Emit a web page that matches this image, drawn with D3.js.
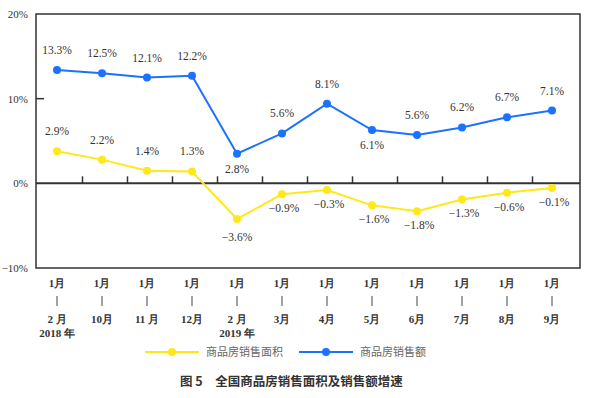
<!DOCTYPE html>
<html><head><meta charset="utf-8">
<script src="https://cdn.jsdelivr.net/npm/d3@7"></script>
<style>body{margin:0;background:#fff}svg{display:block}</style>
</head><body><svg id="c" width="600" height="398"></svg>
<script>
const categories = ["2018-02","2018-10","2018-11","2018-12","2019-02","2019-03","2019-04","2019-05","2019-06","2019-07","2019-08","2019-09"];
const monthLabels = ["2 月","10月","11 月","12月","2 月","3月","4月","5月","6月","7月","8月","9月"];
const yearLabels = ["2018 年","","","","2019 年","","","","","","",""];
const amountValues = [13.4, 13.0, 12.5, 12.7, 3.5, 5.9, 9.4, 6.3, 5.7, 6.6, 7.8, 8.6];
const amountLabels = ["13.3%","12.5%","12.1%","12.2%","2.8%","5.6%","8.1%","6.1%","5.6%","6.2%","6.7%","7.1%"];
const areaValues = [3.8, 2.8, 1.5, 1.4, -4.2, -1.3, -0.8, -2.6, -3.3, -1.9, -1.1, -0.55];
const areaLabels = ["2.9%","2.2%","1.4%","1.3%","−3.6%","−0.9%","−0.3%","−1.6%","−1.8%","−1.3%","−0.6%","−0.1%"];
const yTicks = [20, 10, 0, -10];
const yTickLabels = ["20%","10%","0%","−10%"];
const seriesNames = ["商品房销售面积","商品房销售额"];
const title = "图 5　全国商品房销售面积及销售额增速";

const svg = d3.select("#c");
const L = 36, R = 580, T = 14, B = 268;
const x = d3.scalePoint().domain(categories).range([57, 552]).padding(0);
const y = d3.scaleLinear().domain([-10, 20]).range([B, T]);
const serif = "'Liberation Serif','Times New Roman',serif";
const frame = "#333";

// frame
svg.append("rect").attr("x", L).attr("y", T).attr("width", R - L).attr("height", B - T)
  .attr("fill", "none").attr("stroke", frame).attr("stroke-width", 1.5);
// zero line
svg.append("line").attr("x1", L).attr("x2", R).attr("y1", y(0)).attr("y2", y(0))
  .attr("stroke", frame).attr("stroke-width", 2);
// y tick at 10%
svg.append("line").attr("x1", L).attr("x2", L + 8).attr("y1", y(10)).attr("y2", y(10))
  .attr("stroke", frame).attr("stroke-width", 1.5);
// category separators on zero line
const step = x.step();
categories.slice(0, -1).forEach((c, i) => {
  const xx = x(c) + step / 2 + 3;
  svg.append("line").attr("x1", xx).attr("x2", xx).attr("y1", y(0)).attr("y2", y(0) - 7)
    .attr("stroke", frame).attr("stroke-width", 1.5);
});
// y labels
svg.selectAll(".yl").data(yTicks).enter().append("text")
  .attr("x", 28).attr("y", d => y(d) + 4).attr("text-anchor", "end")
  .attr("font-family", serif).attr("font-size", 11).attr("fill", "#333")
  .text((d, i) => yTickLabels[i]);

// x labels
categories.forEach((c, i) => {
  const g = svg.append("g").attr("font-family", serif).attr("font-size", 11)
    .attr("font-weight", "bold").attr("fill", "#333").attr("text-anchor", "middle");
  g.append("text").attr("x", x(c)).attr("y", 287).text("1月");
  g.append("line").attr("x1", x(c)).attr("x2", x(c)).attr("y1", 296).attr("y2", 306)
    .attr("stroke", "#444").attr("stroke-width", 1);
  g.append("text").attr("x", x(c)).attr("y", 323).text(monthLabels[i]);
  if (yearLabels[i]) g.append("text").attr("x", x(c)).attr("y", 337).text(yearLabels[i]);
});

const blue = "#1a72ff", yellow = "#ffe81a";
const line = d3.line().x((d, i) => x(categories[i])).y(d => y(d));

function drawSeries(vals, color) {
  svg.append("path").datum(vals).attr("d", line).attr("fill", "none")
    .attr("stroke", color).attr("stroke-width", 2);
  svg.selectAll(null).data(vals).enter().append("circle")
    .attr("cx", (d, i) => x(categories[i])).attr("cy", d => y(d)).attr("r", 4).attr("fill", color);
}
drawSeries(areaValues, yellow);
drawSeries(amountValues, blue);

// labels
const amountBelow = [false,false,false,false,true,false,false,true,false,false,false,false];
svg.selectAll(null).data(amountValues).enter().append("text")
  .attr("x", (d, i) => x(categories[i]))
  .attr("y", (d, i) => y(d) + (amountBelow[i] ? 19 : -16))
  .attr("text-anchor", "middle").attr("font-family", serif).attr("font-size", 11.5).attr("fill", "#333")
  .text((d, i) => amountLabels[i]);
const areaAbove = [true,true,true,true,false,false,false,false,false,false,false,false];
svg.selectAll(null).data(areaValues).enter().append("text")
  .attr("x", (d, i) => x(categories[i]) + (i >= 5 ? 2 : 0))
  .attr("y", (d, i) => y(d) + (areaAbove[i] ? -16 : (i === 4 ? 22 : 18)))
  .attr("text-anchor", "middle").attr("font-family", serif).attr("font-size", 11.5).attr("fill", "#333")
  .text((d, i) => areaLabels[i]);

// legend
const leg = [{c: yellow, x0: 145, name: seriesNames[0]}, {c: blue, x0: 299, name: seriesNames[1]}];
leg.forEach(l => {
  svg.append("line").attr("x1", l.x0).attr("x2", l.x0 + 54).attr("y1", 352).attr("y2", 352)
    .attr("stroke", l.c).attr("stroke-width", 2);
  svg.append("circle").attr("cx", l.x0 + 27).attr("cy", 352).attr("r", 4).attr("fill", l.c);
  svg.append("text").attr("x", l.x0 + 61).attr("y", 356)
    .attr("font-family", "'Noto Sans CJK SC',sans-serif").attr("font-size", 11).attr("fill", "#666")
    .text(l.name);
});

// caption
svg.append("text").attr("x", 180).attr("y", 386)
  .attr("font-family", "'Noto Sans CJK SC',sans-serif").attr("font-size", 12.5).attr("font-weight", "bold")
  .attr("fill", "#333").text(title);
</script></body></html>
